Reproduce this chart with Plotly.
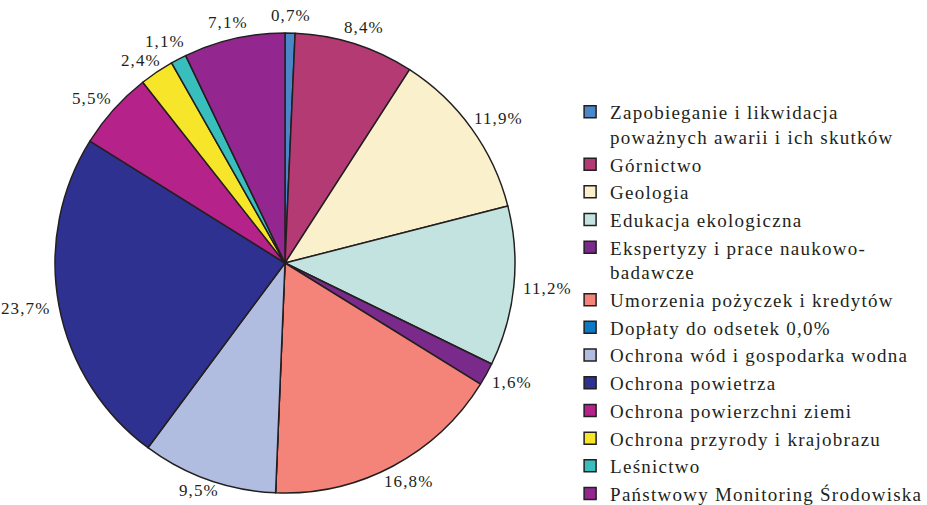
import math
import plotly.graph_objects as go

categories = [
    "Zapobieganie i likwidacja<br>poważnych awarii i ich skutków",
    "Górnictwo",
    "Geologia",
    "Edukacja ekologiczna",
    "Ekspertyzy i prace naukowo-<br>badawcze",
    "Umorzenia pożyczek i kredytów",
    "Dopłaty do odsetek 0,0%",
    "Ochrona wód i gospodarka wodna",
    "Ochrona powietrza",
    "Ochrona powierzchni ziemi",
    "Ochrona przyrody i krajobrazu",
    "Leśnictwo",
    "Państwowy Monitoring Środowiska",
]
values = [0.7, 8.4, 11.9, 11.2, 1.6, 16.8, 0.0, 9.5, 23.7, 5.5, 2.4, 1.1, 7.1]
colors = ["#4a86c8", "#b43a74", "#faf1cc", "#c2e3e0", "#7a2a8a", "#f4837a",
          "#0a7ac4", "#b0bde0", "#2e3190", "#b5228a", "#f7e52a", "#38bfbd", "#93278f"]

# ---- layout geometry (pixels) ----
W, H = 927, 505
PIE_CX, PIE_CY, PIE_R = 285, 263, 230
LABEL_SIZE = 17
LEGEND_SIZE = 19
LEGEND_TRACKING = 1.25
LABEL_TRACKING = 1.1
FONT = "Liberation Serif"


def fmt(v):
    return f"{v:.1f}".replace(".", ",") + "%"


def tracked(s, px):
    return "<br>".join(
        f'<span style="letter-spacing:{px}px">{part}</span>' for part in s.split("<br>")
    )


legend_labels = [tracked(c, LEGEND_TRACKING) for c in categories]

dom_x = [(PIE_CX - PIE_R) / W, (PIE_CX + PIE_R) / W]
dom_y = [1 - (PIE_CY + PIE_R) / H, 1 - (PIE_CY - PIE_R) / H]

fig = go.Figure(go.Pie(
    labels=legend_labels,
    values=values,
    textinfo="none",
    sort=False,
    direction="clockwise",
    rotation=0,
    marker=dict(colors=colors, line=dict(color="#231f20", width=1.5)),
    domain=dict(x=dom_x, y=dom_y),
    hoverinfo="label+percent",
))

# ---- outside percentage labels, placed from the values ----
char_w = {",": 0.25, "%": 0.833}
total = sum(values)
cum = 0.0
boxes = []
for v in values:
    mid = (cum + v / 2) / total * 2 * math.pi
    cum += v
    if v <= 0:
        continue
    txt = fmt(v)
    tw = sum(char_w.get(c, 0.5) for c in txt) * LABEL_SIZE + LABEL_TRACKING * len(txt)
    th = LABEL_SIZE * 0.95
    ux, uy = math.sin(mid), -math.cos(mid)
    gap = 9
    px = PIE_CX + ux * (PIE_R + gap) + ux * tw / 2
    py = PIE_CY + uy * (PIE_R + gap) + uy * th / 2
    boxes.append(dict(txt=txt, px=px, py=py, tw=tw, th=th))

# push apart labels whose boxes would overlap
for i in range(len(boxes)):
    for j in range(i + 1, len(boxes)):
        a, b = boxes[i], boxes[j]
        ox = (a["tw"] + b["tw"]) / 2 - abs(a["px"] - b["px"])
        oy = (a["th"] + b["th"]) / 2 - abs(a["py"] - b["py"])
        if ox > 0 and oy > 0:
            s = oy / 2 + 1.5
            if a["py"] < b["py"]:
                a["py"] -= s
                b["py"] += s
            else:
                a["py"] += s
                b["py"] -= s

annotations = []
for bx in boxes:
    py = min(max(bx["py"], bx["th"] / 2 + 4), H - bx["th"] / 2 - 6)
    annotations.append(dict(
        x=bx["px"] / W, y=1 - py / H, xref="paper", yref="paper",
        text=tracked(bx["txt"], LABEL_TRACKING), showarrow=False,
        xanchor="center", yanchor="middle",
        font=dict(family=FONT, size=LABEL_SIZE, color="#231f20"),
    ))

fig.update_layout(
    width=W, height=H,
    margin=dict(l=0, r=0, t=0, b=0, autoexpand=False),
    paper_bgcolor="white",
    plot_bgcolor="white",
    font=dict(family=FONT, size=LEGEND_SIZE, color="#231f20"),
    annotations=annotations,
    legend=dict(
        x=0.615, y=0.816, xanchor="left", yanchor="top",
        font=dict(family=FONT, size=LEGEND_SIZE, color="#231f20"),
        itemwidth=30,
        valign="top",
        tracegroupgap=0,
        bgcolor="rgba(0,0,0,0)",
    ),
)

fig.write_html(
    "out.html",
    config={"displayModeBar": False},
    post_script="document.body.style.margin='0';document.body.style.overflow='hidden';",
)
